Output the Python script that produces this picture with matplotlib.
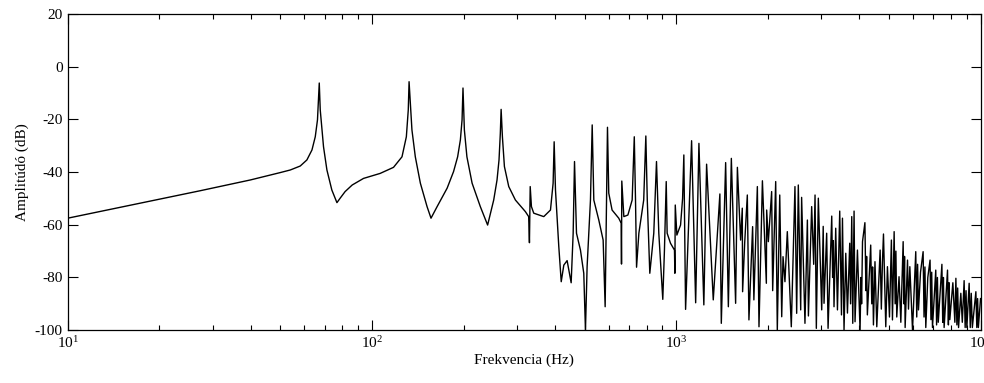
import matplotlib.pyplot as plt
from matplotlib.ticker import LogLocator, NullFormatter

# frequency response, split in three bands (Hz, dB)
low_hz = [
    10.0, 27.2, 39.8, 49.9, 53.9, 58.1, 61.1, 63.5, 65.1, 66.2,
    67.1, 67.6, 69.3, 71.1, 73.8, 76.7, 78.6, 81.6, 86.1, 93.8,
    106.4, 117.7, 125.5, 129.7, 131.6, 132.4, 135.3, 138.8, 144.2, 151.7,
    156.3, 163.7, 176.6, 185.4, 191.2, 195.2, 197.7, 199.1, 201.2, 205.1,
    213.3, 227.0, 239.9, 251.2, 257.6, 261.5, 264.1, 265.7, 268.3, 272.4,
    281.5, 296.0, 319.2, 327.3, 329.2, 331.1, 334.2, 340.1, 366.9, 386.0,
    393.8, 396.9, 400.9, 411.1, 418.7, 427.0, 437.8, 451.4, 458.3, 463.0,
    470.0, 484.3, 496.6, 503.0, 509.3, 522.4, 529.3, 535.8, 556.4, 575.0,
    583.8, 590.0, 594.2, 600.0, 615.2, 647.1, 659.2, 660.7, 662.2, 672.5,
    693.4, 716.2, 727.8, 734.6, 740.4, 753.5, 781.6, 794.3, 803.0, 818.5,
    843.5, 861.0, 876.2, 889.0, 903.0, 914.4, 926.8, 933.3, 957.2,
]
low_db = [
    -57.5, -47.1, -43.0, -40.2, -39.2, -37.7, -35.4, -31.6, -26.6, -20.2,
    -6.2, -16.4, -30.4, -39.2, -46.8, -51.6, -49.9, -47.4, -44.9, -42.4,
    -40.5, -38.2, -34.2, -26.6, -16.4, -5.7, -24.0, -34.2, -44.2, -53.1,
    -57.5, -53.1, -46.1, -39.8, -34.2, -27.8, -20.2, -8.1, -24.0, -34.2,
    -44.2, -53.1, -60.1, -50.6, -43.0, -35.4, -25.3, -16.2, -26.6, -37.9,
    -45.5, -50.6, -55.0, -56.9, -66.8, -45.5, -53.1, -55.6, -56.9, -54.4,
    -44.2, -28.5, -46.8, -68.3, -81.6, -75.3, -73.6, -82.0, -63.2, -36.0,
    -63.2, -69.6, -78.4, -100, -75.9, -50.6, -22.1, -50.6, -58.2, -65.8,
    -91.1, -50.6, -23.0, -48.0, -54.4, -57.5, -59.4, -74.9, -43.4, -56.9,
    -56.3, -50.6, -26.6, -50.6, -76.1, -63.2, -50.6, -26.3, -50.6, -78.4,
    -63.2, -36.0, -63.2, -75.0, -88.3, -69.6, -43.6, -63.2, -67.0,
]

mid_hz = [
    986.5, 989.5, 992.4, 1004.6, 1033, 1049, 1059, 1073, 1123, 1158,
    1187, 1232, 1258, 1323, 1391, 1406, 1453, 1483, 1517, 1567,
    1588, 1627, 1648, 1652, 1678, 1712, 1733, 1782, 1799, 1847,
    1870, 1919, 1977, 1982, 2007, 2058, 2074, 2122, 2148, 2188,
    2221, 2243, 2276, 2317, 2388, 2455, 2487, 2518, 2564, 2582,
    2648, 2697, 2718, 2786, 2829, 2858, 2886, 2930, 3006, 3040,
    3059, 3121, 3154,
]
mid_db = [
    -69.6, -78.4, -52.5, -63.9, -60.1, -50.0, -33.5, -92.1, -28.1, -89.6,
    -29.1, -90.4, -37.0, -88.5, -48.3, -97.4, -36.4, -91.1, -34.8, -89.8,
    -38.2, -65.8, -53.7, -85.4, -67.0, -48.7, -96.1, -60.7, -88.5, -45.5,
    -98.7, -43.3, -82.2, -54.4, -66.4, -47.4, -85.0, -43.6, -100, -48.7,
    -94.9, -72.1, -81.6, -62.6, -98.7, -45.5, -93.6, -44.9, -92.3, -49.6,
    -97.4, -58.2, -94.6, -53.1, -75.0, -48.7, -99.3, -49.9, -92.3, -60.6,
    -89.8, -63.2, -99.3,
]

high_hz = [
    3243, 3265, 3282, 3299, 3342, 3386, 3445, 3491, 3517, 3559,
    3606, 3652, 3716, 3740, 3773, 3802, 3840, 3868, 3939, 4018,
    4045, 4065, 4093, 4168, 4200, 4222, 4246, 4355, 4390, 4418,
    4446, 4498, 4560, 4677, 4720, 4760, 4797, 4881, 4943, 5020,
    5093, 5134, 5200, 5240, 5270, 5304, 5396, 5470, 5567, 5600,
    5625, 5651, 5754, 5796, 5856, 5976, 6124, 6170, 6210, 6252,
    6349, 6475, 6520, 6565, 6607, 6708, 6824, 6870, 6910, 6950,
    7125, 7170, 7215, 7261, 7464, 7510, 7550, 7590, 7788, 7840,
    7880, 7925, 8109, 8233, 8297, 8360, 8410, 8466, 8613, 8710,
    8831, 8900, 8960, 9016, 9173, 9250, 9320, 9397, 9652, 9720,
    9780, 9835, 10000,
]
high_db = [
    -56.7, -80.0, -66.0, -91.1, -61.3, -92.3, -54.8, -94.2, -57.5, -100,
    -70.8, -93.5, -67.0, -90.0, -56.9, -97.4, -54.8, -96.8, -69.6, -100,
    -80.0, -90.0, -66.4, -59.2, -85.0, -72.0, -94.2, -67.7, -90.0, -76.0,
    -98.0, -74.0, -98.7, -69.6, -92.0, -74.0, -63.5, -98.7, -75.9, -95.0,
    -65.8, -96.1, -62.6, -90.0, -70.0, -95.0, -79.7, -97.0, -66.4, -90.0,
    -72.0, -99.0, -73.4, -92.0, -75.9, -100, -70.2, -95.0, -75.0, -92.3,
    -78.0, -70.2, -95.0, -76.0, -99.0, -80.0, -73.4, -96.0, -78.0, -99.0,
    -77.2, -98.0, -80.0, -97.0, -75.0, -97.0, -80.0, -99.0, -77.2, -98.0,
    -82.0, -96.0, -82.0, -97.0, -80.3, -98.0, -84.0, -99.0, -86.0, -97.0,
    -81.2, -99.0, -85.0, -99.0, -82.2, -99.0, -86.0, -99.0, -85.4, -99.0,
    -88.0, -99.0, -88.0,
]

y_ticks = [20, 0, -20, -40, -60, -80, -100]

freq_hz = low_hz + mid_hz + high_hz
level_db = low_db + mid_db + high_db

plt.rcParams['font.family'] = ['Liberation Serif', 'DejaVu Serif']
plt.rcParams['mathtext.fontset'] = 'stix'
plt.rcParams['font.size'] = 11

fig = plt.figure(figsize=(9.84, 3.83), dpi=100)
ax = fig.add_axes([0.0688, 0.1379, 0.9277, 0.8256])

ax.semilogx(freq_hz, level_db, color='black', linewidth=1.0)

ax.set_xlim(10, 10000)
ax.set_ylim(-100, 20)
ax.set_yticks(y_ticks)
ax.set_yticklabels([str(t) for t in y_ticks])
ax.xaxis.set_major_locator(LogLocator(base=10))
ax.xaxis.set_minor_locator(LogLocator(base=10, subs=range(2, 10)))
ax.xaxis.set_minor_formatter(NullFormatter())

ax.tick_params(which='both', direction='in', top=True, right=True, width=0.8)
ax.tick_params(which='major', length=7)
ax.tick_params(which='minor', length=3.5)
for s in ax.spines.values():
    s.set_linewidth(0.9)

ax.set_xlabel('Frekvencia (Hz)', labelpad=2)
ax.set_ylabel('Amplitúdó (dB)', labelpad=4)

fig.savefig('out.png', dpi=100)
